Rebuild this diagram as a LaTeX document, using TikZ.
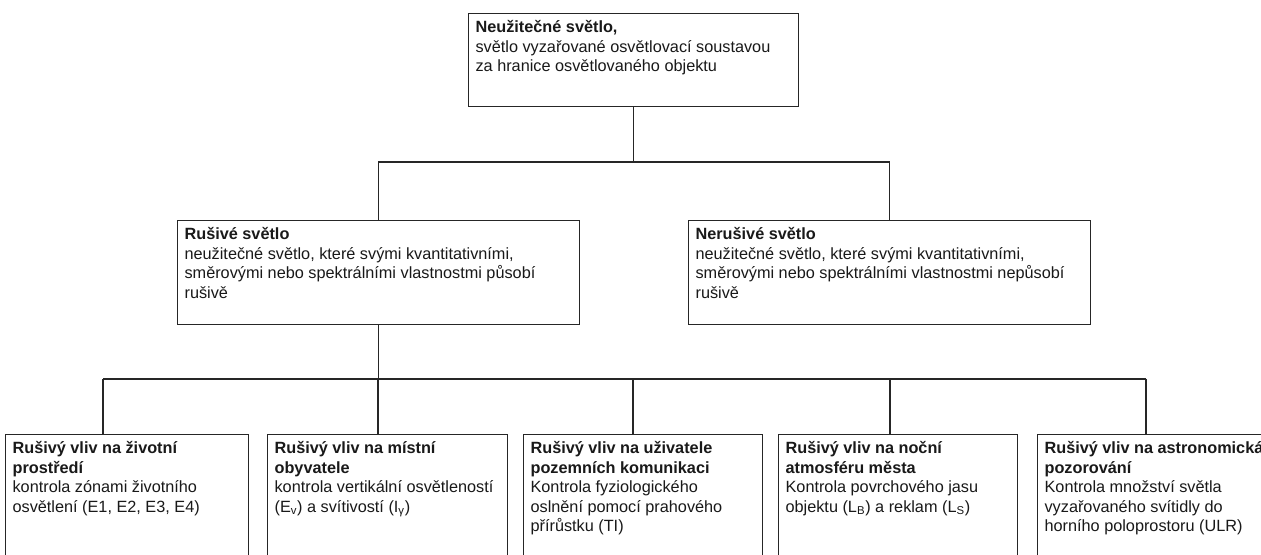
\documentclass[tikz,border=0pt]{standalone}
\usepackage{fontspec}
\setmainfont{Liberation Sans}
\usetikzlibrary{calc}
\newcommand{\cbody}[3]{\parbox[t][#1][t]{#2}{\raggedright\fontsize{12.2pt}{14.6pt}\selectfont\rule{0pt}{14.4pt}#3}}
\tikzset{
  cbox/.style={draw=black!85, line width=0.9pt, anchor=north west, inner xsep=5.25pt, inner ysep=0pt, text=black!90},
  conn/.style={draw=black!85, line width=0.8pt}
}
\begin{document}
\begin{tikzpicture}[x=0.75pt,y=-0.75pt]
\useasboundingbox (0,0) rectangle (1261,555);
\clip (0,0) rectangle (1261,555);
\fill[white] (0,0) rectangle (1261,555);
% top
\node[cbox] (top) at (468,13) {\cbody{69.75pt}{237pt}{\textbf{Neužitečné světlo,}\\světlo vyzařované osvětlovací soustavou\\za hranice osvětlovaného objektu}};
% second level
\node[cbox] (rus) at (177,220) {\cbody{78pt}{291pt}{\textbf{Rušivé světlo}\\neužitečné světlo, které svými kvantitativními,\\směrovými nebo spektrálními vlastnostmi působí\\rušivě}};
\node[cbox] (nerus) at (688,220) {\cbody{78pt}{291pt}{\textbf{Nerušivé světlo}\\neužitečné světlo, které svými kvantitativními,\\směrovými nebo spektrálními vlastnostmi nepůsobí\\rušivě}};
% bottom
\node[cbox] (b1) at (5,434) {\cbody{112pt}{171.75pt}{\textbf{Rušivý vliv na životní}\\\textbf{prostředí}\\kontrola zónami životního\\osvětlení (E1, E2, E3, E4)}};
\node[cbox] (b2) at (267,434) {\cbody{112pt}{169.5pt}{\textbf{Rušivý vliv na místní}\\\textbf{obyvatele}\\kontrola vertikální osvětleností\\(E\textsubscript{v}) a svítivostí (I\textsubscript{γ})}};
\node[cbox] (b3) at (523,434) {\cbody{112pt}{168.75pt}{\textbf{Rušivý vliv na uživatele}\\\textbf{pozemních komunikaci}\\Kontrola fyziologického\\oslnění pomocí prahového\\přírůstku (TI)}};
\node[cbox] (b4) at (778,434) {\cbody{112pt}{168.75pt}{\textbf{Rušivý vliv na noční}\\\textbf{atmosféru města}\\Kontrola povrchového jasu\\objektu (L\textsubscript{B}) a reklam (L\textsubscript{S})}};
\node[cbox] (b5) at (1037,434) {\cbody{112pt}{169.5pt}{\textbf{Rušivý vliv na astronomická}\\\textbf{pozorování}\\Kontrola množství světla\\vyzařovaného svítidly do\\horního poloprostoru (ULR)}};
% bus coordinates
\coordinate (h1) at (0,162);
\coordinate (h2) at (0,379);
\coordinate (d1) at (103,379);
\coordinate (d2) at (378,379);
\coordinate (d3) at (633,379);
\coordinate (d4) at (890,379);
\coordinate (d5) at (1146,379);
% connectors level 1
\draw[conn] (top.south) -- (top.south |- h1);
\draw[conn] (rus.north) -- (rus.north |- h1) -- (nerus.north |- h1) -- (nerus.north);
% connectors level 2
\draw[conn] (rus.south) -- (rus.south |- h2);
\draw[conn] (d1) -- (d5);
\draw[conn] (d1) -- (d1 |- b1.north);
\draw[conn] (d2) -- (d2 |- b2.north);
\draw[conn] (d3) -- (d3 |- b3.north);
\draw[conn] (d4) -- (d4 |- b4.north);
\draw[conn] (d5) -- (d5 |- b5.north);
\end{tikzpicture}
\end{document}
